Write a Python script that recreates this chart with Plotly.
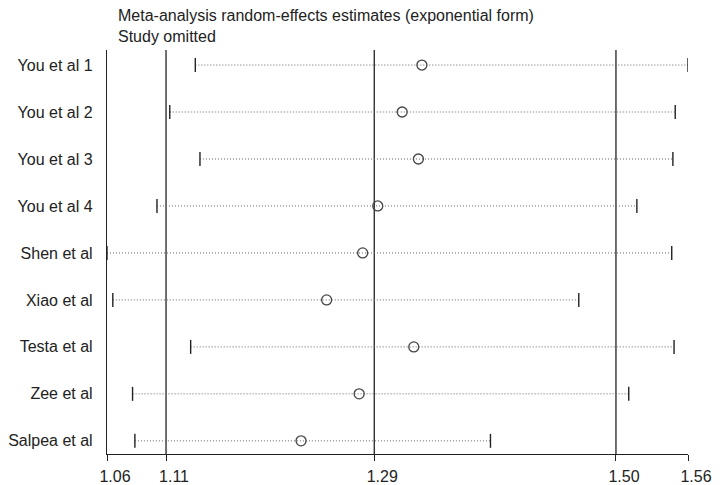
import plotly.graph_objects as go

# study omitted, estimate and 95% CI (exponential form)
studies = ["You et al 1", "You et al 2", "You et al 3", "You et al 4", "Shen et al",
           "Xiao et al", "Testa et al", "Zee et al", "Salpea et al"]
est = [1.331, 1.314, 1.328, 1.293, 1.280, 1.249, 1.324, 1.277, 1.227]
lower = [1.136, 1.114, 1.140, 1.103, 1.060, 1.065, 1.132, 1.082, 1.084]
upper = [1.560, 1.549, 1.547, 1.516, 1.546, 1.466, 1.548, 1.509, 1.390]

# overall pooled estimate: lower CI, estimate, upper CI
overall = [1.1108, 1.290, 1.498]
tickvals = [1.06, 1.1108, 1.290, 1.498, 1.56]
ticktext = ["1.06", "1.11", "1.29", "1.50", "1.56"]

rows = list(range(1, len(studies) + 1))
FONT = "Liberation Sans, Arial, sans-serif"

fig = go.Figure()

# dotted CI lines
for r, lo, hi in zip(rows, lower, upper):
    fig.add_trace(go.Scatter(x=[lo, hi], y=[r, r], mode="lines",
                             line=dict(color="#666666", width=1, dash="1px,2px"),
                             showlegend=False, hoverinfo="skip"))

# end caps
fig.add_trace(go.Scatter(x=lower + upper, y=rows + rows, mode="markers",
                         marker=dict(symbol="line-ns", size=10,
                                     line=dict(color="#222222", width=1.4)),
                         showlegend=False))

# estimates
fig.add_trace(go.Scatter(x=est, y=rows, mode="markers",
                         marker=dict(symbol="circle-open", size=10,
                                     color="#444444", line=dict(width=1.3)),
                         showlegend=False))

for v in overall:
    fig.add_shape(type="line", xref="x", yref="paper", x0=v, x1=v, y0=0, y1=1,
                  line=dict(color="#222222", width=1.3), layer="below")

fig.update_layout(
    width=720, height=485,
    margin=dict(l=107, r=32, t=50, b=31),
    plot_bgcolor="white", paper_bgcolor="white",
    font=dict(family=FONT, size=16, color="#222222"),
    showlegend=False,
)
fig.update_xaxes(range=[1.06, 1.56], tickvals=tickvals, ticktext=ticktext,
                 showgrid=False, zeroline=False, showline=True,
                 linecolor="#222222", linewidth=1.3, ticks="outside",
                 ticklen=6, tickcolor="#222222", tickwidth=1.3,
                 ticklabelshift=8, ticklabelstandoff=2,
                 tickfont=dict(size=16), automargin=False)
fig.update_yaxes(range=[9.28, 0.68], tickvals=rows, ticktext=studies,
                 showgrid=False, zeroline=False, showline=True,
                 linecolor="#222222", linewidth=1.3, ticks="",
                 ticklabelstandoff=10, tickfont=dict(size=16), automargin=False)

fig.add_annotation(text="Meta-analysis random-effects estimates (exponential form)<br>Study omitted",
                   xref="paper", yref="paper", x=0.015, y=1, xanchor="left", yanchor="bottom",
                   yshift=3, align="left", showarrow=False, font=dict(size=16))

fig.write_html("out.html", config={"displayModeBar": False},
               post_script="document.body.style.margin='0px';")
